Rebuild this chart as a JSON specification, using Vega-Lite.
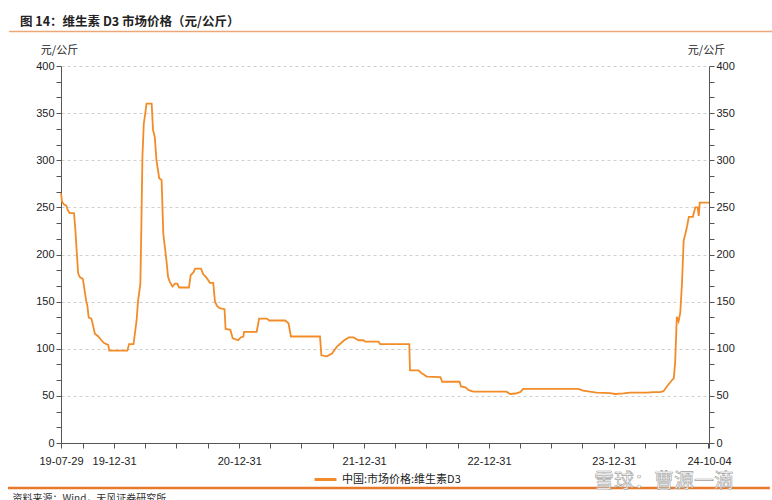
{
  "$schema": "https://vega.github.io/schema/vega-lite/v6.json",
  "width": 648,
  "height": 377,
  "autosize": "none",
  "padding": {"left": 61, "top": 66, "right": 63, "bottom": 57},
  "background": "white",
  "config": {
    "view": {"stroke": null},
    "font": "Liberation Sans",
    "axis": {"labelFont": "Liberation Sans", "labelFontSize": 11, "labelColor": "#222", "domainColor": "#555", "tickColor": "#555", "tickSize": 5}
  },
  "title": {"text": "图 14：维生素 D3 市场价格（元/公斤）", "anchor": "start", "frame": "group", "dx": -41, "offset": 2, "font": "Noto Sans CJK SC", "fontSize": 12.5, "fontWeight": "bold", "color": "#222"},
  "datasets": {
    "prices": [
      {"date": "2019-07-29", "price": 265},
      {"date": "2019-08-01", "price": 256},
      {"date": "2019-08-07", "price": 253},
      {"date": "2019-08-13", "price": 252},
      {"date": "2019-08-18", "price": 247},
      {"date": "2019-08-23", "price": 244},
      {"date": "2019-09-05", "price": 244},
      {"date": "2019-09-09", "price": 226},
      {"date": "2019-09-17", "price": 180},
      {"date": "2019-09-22", "price": 176},
      {"date": "2019-10-01", "price": 174},
      {"date": "2019-10-11", "price": 150},
      {"date": "2019-10-14", "price": 146},
      {"date": "2019-10-18", "price": 133},
      {"date": "2019-10-26", "price": 132},
      {"date": "2019-11-05", "price": 116},
      {"date": "2019-11-15", "price": 113},
      {"date": "2019-11-24", "price": 109},
      {"date": "2019-12-02", "price": 106},
      {"date": "2019-12-14", "price": 104},
      {"date": "2019-12-17", "price": 98},
      {"date": "2020-02-08", "price": 98},
      {"date": "2020-02-13", "price": 105},
      {"date": "2020-02-26", "price": 105},
      {"date": "2020-03-06", "price": 130},
      {"date": "2020-03-10", "price": 150},
      {"date": "2020-03-17", "price": 169},
      {"date": "2020-03-20", "price": 233},
      {"date": "2020-03-23", "price": 304},
      {"date": "2020-03-27", "price": 339},
      {"date": "2020-03-31", "price": 349},
      {"date": "2020-04-04", "price": 360},
      {"date": "2020-04-19", "price": 360},
      {"date": "2020-04-23", "price": 332},
      {"date": "2020-04-28", "price": 325},
      {"date": "2020-05-03", "price": 300},
      {"date": "2020-05-11", "price": 281},
      {"date": "2020-05-18", "price": 279},
      {"date": "2020-05-23", "price": 222},
      {"date": "2020-06-02", "price": 191},
      {"date": "2020-06-06", "price": 176},
      {"date": "2020-06-11", "price": 171},
      {"date": "2020-06-19", "price": 166},
      {"date": "2020-06-26", "price": 169},
      {"date": "2020-07-03", "price": 169},
      {"date": "2020-07-08", "price": 165},
      {"date": "2020-08-06", "price": 165},
      {"date": "2020-08-11", "price": 178},
      {"date": "2020-08-19", "price": 181},
      {"date": "2020-08-24", "price": 185},
      {"date": "2020-09-10", "price": 185},
      {"date": "2020-09-17", "price": 179},
      {"date": "2020-09-25", "price": 176},
      {"date": "2020-10-01", "price": 173},
      {"date": "2020-10-06", "price": 170},
      {"date": "2020-10-16", "price": 170},
      {"date": "2020-10-21", "price": 150},
      {"date": "2020-10-28", "price": 145},
      {"date": "2020-11-04", "price": 143},
      {"date": "2020-11-18", "price": 142},
      {"date": "2020-11-21", "price": 121},
      {"date": "2020-12-05", "price": 120},
      {"date": "2020-12-12", "price": 111},
      {"date": "2020-12-28", "price": 109},
      {"date": "2021-01-04", "price": 112},
      {"date": "2021-01-12", "price": 113},
      {"date": "2021-01-14", "price": 118},
      {"date": "2021-02-20", "price": 118},
      {"date": "2021-02-27", "price": 132},
      {"date": "2021-03-21", "price": 132},
      {"date": "2021-03-29", "price": 130},
      {"date": "2021-05-14", "price": 130},
      {"date": "2021-05-24", "price": 127},
      {"date": "2021-05-31", "price": 113},
      {"date": "2021-08-24", "price": 113},
      {"date": "2021-08-28", "price": 93},
      {"date": "2021-09-13", "price": 92},
      {"date": "2021-09-28", "price": 95},
      {"date": "2021-10-12", "price": 102},
      {"date": "2021-11-01", "price": 108.5},
      {"date": "2021-11-16", "price": 112},
      {"date": "2021-11-30", "price": 112},
      {"date": "2021-12-15", "price": 109},
      {"date": "2021-12-29", "price": 109},
      {"date": "2022-01-03", "price": 107.5},
      {"date": "2022-02-11", "price": 107.5},
      {"date": "2022-02-16", "price": 105},
      {"date": "2022-05-12", "price": 105},
      {"date": "2022-05-14", "price": 77},
      {"date": "2022-06-08", "price": 77},
      {"date": "2022-06-15", "price": 74.6},
      {"date": "2022-06-22", "price": 73},
      {"date": "2022-07-02", "price": 70.5},
      {"date": "2022-08-11", "price": 70},
      {"date": "2022-08-16", "price": 65},
      {"date": "2022-10-06", "price": 65},
      {"date": "2022-10-10", "price": 60},
      {"date": "2022-10-23", "price": 59},
      {"date": "2022-11-02", "price": 56},
      {"date": "2022-11-15", "price": 54.5},
      {"date": "2023-02-20", "price": 54.5},
      {"date": "2023-03-03", "price": 52},
      {"date": "2023-03-18", "price": 52.5},
      {"date": "2023-04-01", "price": 54},
      {"date": "2023-04-10", "price": 57.5},
      {"date": "2023-09-18", "price": 57.5},
      {"date": "2023-10-02", "price": 55.5},
      {"date": "2023-10-22", "price": 54.5},
      {"date": "2023-11-10", "price": 53.5},
      {"date": "2023-12-20", "price": 53},
      {"date": "2024-01-03", "price": 52},
      {"date": "2024-01-28", "price": 52.7},
      {"date": "2024-02-16", "price": 53.4},
      {"date": "2024-04-05", "price": 53.4},
      {"date": "2024-04-24", "price": 54},
      {"date": "2024-05-14", "price": 54},
      {"date": "2024-05-24", "price": 55},
      {"date": "2024-06-03", "price": 60},
      {"date": "2024-06-18", "price": 66.8},
      {"date": "2024-06-23", "price": 68.6},
      {"date": "2024-06-27", "price": 85},
      {"date": "2024-07-02", "price": 134},
      {"date": "2024-07-07", "price": 129},
      {"date": "2024-07-12", "price": 138},
      {"date": "2024-07-17", "price": 169},
      {"date": "2024-07-22", "price": 215},
      {"date": "2024-07-27", "price": 222},
      {"date": "2024-08-01", "price": 230},
      {"date": "2024-08-06", "price": 240},
      {"date": "2024-08-18", "price": 240},
      {"date": "2024-08-25", "price": 250},
      {"date": "2024-09-01", "price": 250},
      {"date": "2024-09-04", "price": 241},
      {"date": "2024-09-07", "price": 255},
      {"date": "2024-10-04", "price": 255}
    ],
    "single": [{}]
  },
  "resolve": {"axis": {"y": "independent", "x": "independent"}},
  "layer": [
    {
      "data": {"name": "prices"},
      "mark": {"type": "line", "strokeWidth": 1.8, "interpolate": "linear"},
      "encoding": {
        "x": {
          "field": "date", "type": "temporal",
          "scale": {"type": "utc", "domain": [{"year": 2019, "month": 7, "date": 29, "utc": true}, {"year": 2024, "month": 10, "date": 4, "utc": true}], "nice": false},
          "axis": {
            "orient": "bottom",
            "grid": false,
            "values": [
              {"year": 2019, "month": 7, "date": 29, "utc": true},
              {"year": 2019, "month": 12, "date": 31, "utc": true},
              {"year": 2020, "month": 12, "date": 31, "utc": true},
              {"year": 2021, "month": 12, "date": 31, "utc": true},
              {"year": 2022, "month": 12, "date": 31, "utc": true},
              {"year": 2023, "month": 12, "date": 31, "utc": true},
              {"year": 2024, "month": 10, "date": 4, "utc": true}
            ],
            "labelExpr": "utcFormat(datum.value, '%y-%m-%d')",
            "labelOverlap": false,
            "labelFlush": false,
            "labelPadding": 7,
            "title": "资料来源：Wind，天风证券研究所",
            "titleX": -49, "titleY": 50, "titleAlign": "left", "titleBaseline": "top", "titleAnchor": "start",
            "titleFont": "Noto Sans CJK SC", "titleFontSize": 10, "titleFontWeight": "normal", "titleColor": "#333"
          }
        },
        "y": {
          "field": "price", "type": "quantitative",
          "scale": {"domain": [0, 400], "nice": false, "zero": true},
          "axis": {
            "orient": "left",
            "values": [0, 50, 100, 150, 200, 250, 300, 350, 400],
            "labelOverlap": false,
            "labelFlush": false,
            "labelPadding": 2,
            "grid": true,
            "gridColor": "#d0d0d0",
            "gridDash": [3, 3],
            "title": "元/公斤", "titleAngle": 0, "titleX": -2, "titleY": -16, "titleAlign": "center", "titleBaseline": "middle",
            "titleFont": "Noto Sans CJK SC", "titleFontSize": 11, "titleFontWeight": "normal", "titleColor": "#222"
          }
        },
        "color": {
          "datum": "中国:市场价格:维生素D3",
          "scale": {"range": ["#F28C28"]},
          "legend": {
            "orient": "none", "legendX": 252, "legendY": 401, "direction": "horizontal", "title": null,
            "symbolType": "stroke", "symbolStrokeWidth": 3, "symbolSize": 480,
            "labelFont": "Noto Sans CJK SC", "labelFontSize": 11, "labelColor": "#222", "padding": 0, "labelOffset": 4
          }
        }
      }
    },
    {
      "data": {"name": "prices"},
      "mark": {"type": "line", "strokeOpacity": 0},
      "encoding": {
        "x": {
          "field": "date", "type": "temporal",
          "axis": {
            "orient": "bottom",
            "grid": false, "labels": false, "domain": false, "title": null,
            "values": [
              {"year": 2019, "month": 9, "date": 30, "utc": true},
              {"year": 2020, "month": 3, "date": 31, "utc": true},
              {"year": 2020, "month": 6, "date": 30, "utc": true},
              {"year": 2020, "month": 9, "date": 30, "utc": true},
              {"year": 2021, "month": 3, "date": 31, "utc": true},
              {"year": 2021, "month": 6, "date": 30, "utc": true},
              {"year": 2021, "month": 9, "date": 30, "utc": true},
              {"year": 2022, "month": 3, "date": 31, "utc": true},
              {"year": 2022, "month": 6, "date": 30, "utc": true},
              {"year": 2022, "month": 9, "date": 30, "utc": true},
              {"year": 2023, "month": 3, "date": 31, "utc": true},
              {"year": 2023, "month": 6, "date": 30, "utc": true},
              {"year": 2023, "month": 9, "date": 30, "utc": true},
              {"year": 2024, "month": 3, "date": 31, "utc": true},
              {"year": 2024, "month": 6, "date": 30, "utc": true},
              {"year": 2024, "month": 9, "date": 30, "utc": true}
            ]
          }
        },
        "y": {
          "field": "price", "type": "quantitative",
          "axis": {
            "orient": "right",
            "values": [0, 50, 100, 150, 200, 250, 300, 350, 400],
            "labelOverlap": false,
            "labelFlush": false,
            "labelPadding": 2,
            "grid": false,
            "title": "元/公斤", "titleAngle": 0, "titleX": -3, "titleY": -16, "titleAlign": "center", "titleBaseline": "middle",
            "titleFont": "Noto Sans CJK SC", "titleFontSize": 11, "titleFontWeight": "normal", "titleColor": "#222"
          }
        }
      }
    },
    {
      "data": {"name": "prices"},
      "mark": {"type": "line", "strokeOpacity": 0},
      "encoding": {
        "x": {"field": "date", "type": "temporal", "axis": null},
        "y": {
          "field": "price", "type": "quantitative",
          "axis": {
            "orient": "left", "labels": false, "domain": false, "grid": false, "title": null,
            "values": [16.6667, 33.3333, 66.6667, 83.3333, 116.6667, 133.3333, 166.6667, 183.3333, 216.6667, 233.3333, 266.6667, 283.3333, 316.6667, 333.3333, 366.6667, 383.3333]
          }
        }
      }
    },
    {
      "data": {"name": "prices"},
      "mark": {"type": "line", "strokeOpacity": 0},
      "encoding": {
        "x": {"field": "date", "type": "temporal", "axis": null},
        "y": {
          "field": "price", "type": "quantitative",
          "axis": {
            "orient": "right", "labels": false, "domain": false, "grid": false, "title": null,
            "values": [16.6667, 33.3333, 66.6667, 83.3333, 116.6667, 133.3333, 166.6667, 183.3333, 216.6667, 233.3333, 266.6667, 283.3333, 316.6667, 333.3333, 366.6667, 383.3333]
          }
        }
      }
    },
    {
      "data": {"name": "single"},
      "mark": {"type": "rule", "color": "#EBA77A", "strokeWidth": 1.3},
      "encoding": {
        "x": {"datum": {"year": 2019, "month": 2, "date": 27, "utc": true}, "type": "temporal", "axis": null},
        "x2": {"datum": {"year": 2025, "month": 4, "date": 10, "utc": true}},
        "y": {"datum": 436.6, "type": "quantitative", "axis": null}
      }
    },
    {
      "data": {"name": "single"},
      "mark": {"type": "rule", "color": "#E8792B", "strokeWidth": 2.5},
      "encoding": {
        "x": {"datum": {"year": 2019, "month": 2, "date": 24, "utc": true}, "type": "temporal", "axis": null},
        "x2": {"datum": {"year": 2025, "month": 3, "date": 31, "utc": true}},
        "y": {"datum": -47.7, "type": "quantitative", "axis": null}
      }
    },
    {
      "data": {"name": "single"},
      "mark": {"type": "text", "text": "雪球：曹源一滴", "align": "left", "baseline": "middle", "font": "Noto Sans CJK SC", "fontSize": 20, "fontWeight": "normal", "fill": "#ffffff", "stroke": "#a0a0a0", "strokeWidth": 0.6},
      "encoding": {
        "x": {"datum": {"year": 2023, "month": 11, "date": 3, "utc": true}, "type": "temporal", "axis": null},
        "y": {"datum": -41.4, "type": "quantitative", "axis": null}
      }
    }
  ]
}
